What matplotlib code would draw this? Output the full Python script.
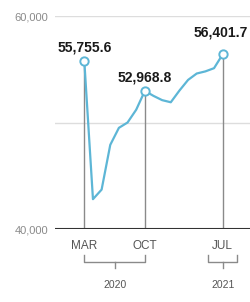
import matplotlib
matplotlib.use("Agg")
import matplotlib.pyplot as plt

# monthly values, Mar 2020 .. Jul 2021
months = ["2020-03", "2020-04", "2020-05", "2020-06", "2020-07", "2020-08",
          "2020-09", "2020-10", "2020-11", "2020-12", "2021-01", "2021-02",
          "2021-03", "2021-04", "2021-05", "2021-06", "2021-07"]
values = [55755.6, 42800, 43700, 47900, 49500, 50000, 51200, 52968.8,
          52500, 52100, 51900, 53000, 54000, 54600, 54800, 55100, 56401.7]

# highlighted months and their labels
marked = [0, 7, 16]
tick_labels = ["MAR", "OCT", "JUL"]
ytick_vals = [40000, 60000]
ytick_labels = ["40,000", "60,000"]
years = ["2020", "2021"]

line_col = "#5db6d6"
grey = "#8a8a8a"

fig = plt.figure(figsize=(2.5, 3.02), dpi=100)
ax = fig.add_axes([0.22, 0.2417, 0.78, 0.7053])

x = list(range(len(months)))

# grid lines
for yv in [50000, 60000]:
    ax.axhline(yv, color="#dddddd", lw=1, zorder=0)
ax.axhline(40000, color="#333333", lw=1.5, zorder=3)

# drop lines from highlighted points
for i in marked:
    ax.vlines(i, 40000, values[i], color=grey, lw=1, zorder=1)

ax.plot(x, values, color=line_col, lw=1.6, zorder=2)
ax.plot([x[i] for i in marked], [values[i] for i in marked], "o",
        ms=6, mfc="white", mec=line_col, mew=1.4, zorder=4)

offsets = [(0, 5), (0, 4.5), (-1.5, 11)]
for i, off in zip(marked, offsets):
    ax.annotate(f"{values[i]:,.1f}", (i, values[i]), xytext=off,
                textcoords="offset points", ha="center", va="bottom",
                fontsize=10, fontweight="bold", color="#1a1a1a",
                family="Liberation Sans", annotation_clip=False)

ax.set_xlim(-3.39, 19.16)
ax.set_ylim(40000, 60000)
ax.set_xticks(marked)
ax.set_xticklabels(tick_labels, fontsize=8.5, color="#555555",
                   family="Liberation Sans")
ax.set_yticks(ytick_vals)
ax.set_yticklabels(ytick_labels, fontsize=8, color=grey,
                   family="Liberation Sans")
ax.tick_params(length=0, axis="x", pad=8)
ax.tick_params(length=0, axis="y", pad=5)
for s in ax.spines.values():
    s.set_visible(False)

# year brackets under the axis
tr = ax.get_xaxis_transform()
brackets = [(0, 7), (14.3, 17.7)]
for (a, b), yr in zip(brackets, years):
    m = (a + b) / 2
    ax.plot([a, a, b, b], [-0.122, -0.155, -0.155, -0.122], color=grey,
            lw=1, transform=tr, clip_on=False)
    ax.plot([m, m], [-0.155, -0.183], color=grey, lw=1, transform=tr,
            clip_on=False)
    ax.text(m, -0.263, yr, transform=tr, ha="center", va="center",
            fontsize=7.5, color="#555555", family="Liberation Sans")

fig.savefig("out.png", dpi=100)
